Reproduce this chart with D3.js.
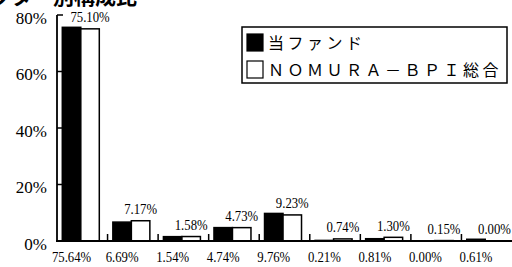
<!DOCTYPE html>
<html>
<head>
<meta charset="utf-8">
<script src="https://cdn.jsdelivr.net/npm/d3@7"></script>
<style>
  body { margin: 0; background: #fff; }
  svg { display: block; }
  .num { font-family: "Liberation Serif", "DejaVu Serif", serif; }
  .jp { font-family: "Noto Sans CJK JP", sans-serif; }
</style>
</head>
<body>
<div id="chart"></div>
<script>
// data
const categories = ['1', '2', '3', '4', '5', '6', '7', '8', '9']
const fund = [75.64, 6.69, 1.54, 4.74, 9.76, 0.21, 0.81, 0.00, 0.61]
const bpi = [75.10, 7.17, 1.58, 4.73, 9.23, 0.74, 1.30, 0.15, 0.00]
const yTicks = [0, 20, 40, 60, 80]
const seriesNames = ['当ファンド', 'ＮＯＭＵＲＡ－ＢＰＩ総合']
const title = 'セクター別構成比'

/*----------------------------------------------------------------------------*/

const width = 512
const height = 267
const base = 241
const barW = 18.5

const svg = d3.select('#chart').append('svg')
  .attr('width', width)
  .attr('height', height)

const x = d3.scaleBand()
  .domain(categories)
  .range([57, 512])

const y = d3.scaleLinear()
  .domain([0, 80])
  .range([base, 15])

// title, mostly cut off at the top
svg.append('text')
  .attr('class', 'jp')
  .attr('x', 137)
  .attr('y', 4)
  .attr('text-anchor', 'end')
  .style('font-size', '21px')
  .style('font-weight', 'bold')
  .text(title)

// y axis
const yAxis = svg.append('g')
yAxis.append('line')
  .attr('x1', 57).attr('x2', 57)
  .attr('y1', y(80)).attr('y2', base)
  .attr('stroke', '#000').attr('stroke-width', 1.8)

yAxis.selectAll('.tick')
  .data(yTicks)
  .enter()
  .append('line')
  .attr('x1', 57).attr('x2', 63)
  .attr('y1', d => y(d)).attr('y2', d => y(d))
  .attr('stroke', '#000').attr('stroke-width', 1.5)

yAxis.selectAll('.lbl')
  .data(yTicks)
  .enter()
  .append('text')
  .attr('class', 'num')
  .attr('x', 47)
  .attr('y', d => y(d) + 3)
  .attr('dy', '0.35em')
  .attr('text-anchor', 'end')
  .style('font-size', '17px')
  .text(d => d + '%')

// bars
const g = svg.selectAll('.grp')
  .data(categories)
  .enter()
  .append('g')
  .attr('transform', d => `translate(${x(d) + 5.3}, 0)`)

g.append('rect')
  .attr('x', 0)
  .attr('y', (d, i) => y(fund[i]))
  .attr('width', barW)
  .attr('height', (d, i) => base - y(fund[i]))
  .attr('fill', '#000')
  .attr('stroke', '#000')
  .attr('stroke-width', 1.5)

g.append('rect')
  .attr('x', barW)
  .attr('y', (d, i) => y(bpi[i]))
  .attr('width', barW)
  .attr('height', (d, i) => base - y(bpi[i]))
  .attr('fill', '#fff')
  .attr('stroke', '#000')
  .attr('stroke-width', 1.5)

// value labels: BPI above white bar, fund under black bar (narrow serif digits)
g.append('text')
  .attr('class', 'num')
  .attr('transform', (d, i) => `translate(${barW * 1.5}, ${y(bpi[i]) - 12}) scale(0.85, 1)`)
  .attr('dy', '0.35em')
  .attr('text-anchor', 'middle')
  .style('font-size', '15px')
  .text((d, i) => bpi[i].toFixed(2) + '%')

g.append('text')
  .attr('class', 'num')
  .attr('transform', `translate(${barW * 0.5}, 257) scale(0.85, 1)`)
  .attr('dy', '0.35em')
  .attr('text-anchor', 'middle')
  .style('font-size', '15px')
  .text((d, i) => fund[i].toFixed(2) + '%')

// baseline and group ticks
svg.append('line')
  .attr('x1', 56).attr('x2', width)
  .attr('y1', base).attr('y2', base)
  .attr('stroke', '#000').attr('stroke-width', 2)

svg.selectAll('.xtick')
  .data(categories.slice(1))
  .enter()
  .append('line')
  .attr('x1', d => x(d)).attr('x2', d => x(d))
  .attr('y1', base).attr('y2', base - 7)
  .attr('stroke', '#000').attr('stroke-width', 1.5)

// legend
const legend = svg.append('g')
legend.append('rect')
  .attr('x', 242).attr('y', 27)
  .attr('width', 265).attr('height', 56)
  .attr('fill', '#fff')
  .attr('stroke', '#000')
  .attr('stroke-width', 1.5)

const item = legend.selectAll('.item')
  .data(seriesNames)
  .enter()
  .append('g')
  .attr('transform', (d, i) => `translate(247, ${34 + i * 27})`)

item.append('rect')
  .attr('width', 16).attr('height', 17)
  .attr('fill', (d, i) => i === 0 ? '#000' : '#fff')
  .attr('stroke', '#000')
  .attr('stroke-width', 1.2)

item.append('text')
  .attr('class', 'jp')
  .attr('x', 21)
  .attr('y', 9)
  .attr('dy', '0.35em')
  .style('font-size', '16px')
  .style('letter-spacing', '3.5px')
  .text(d => d)
</script>
</body>
</html>
